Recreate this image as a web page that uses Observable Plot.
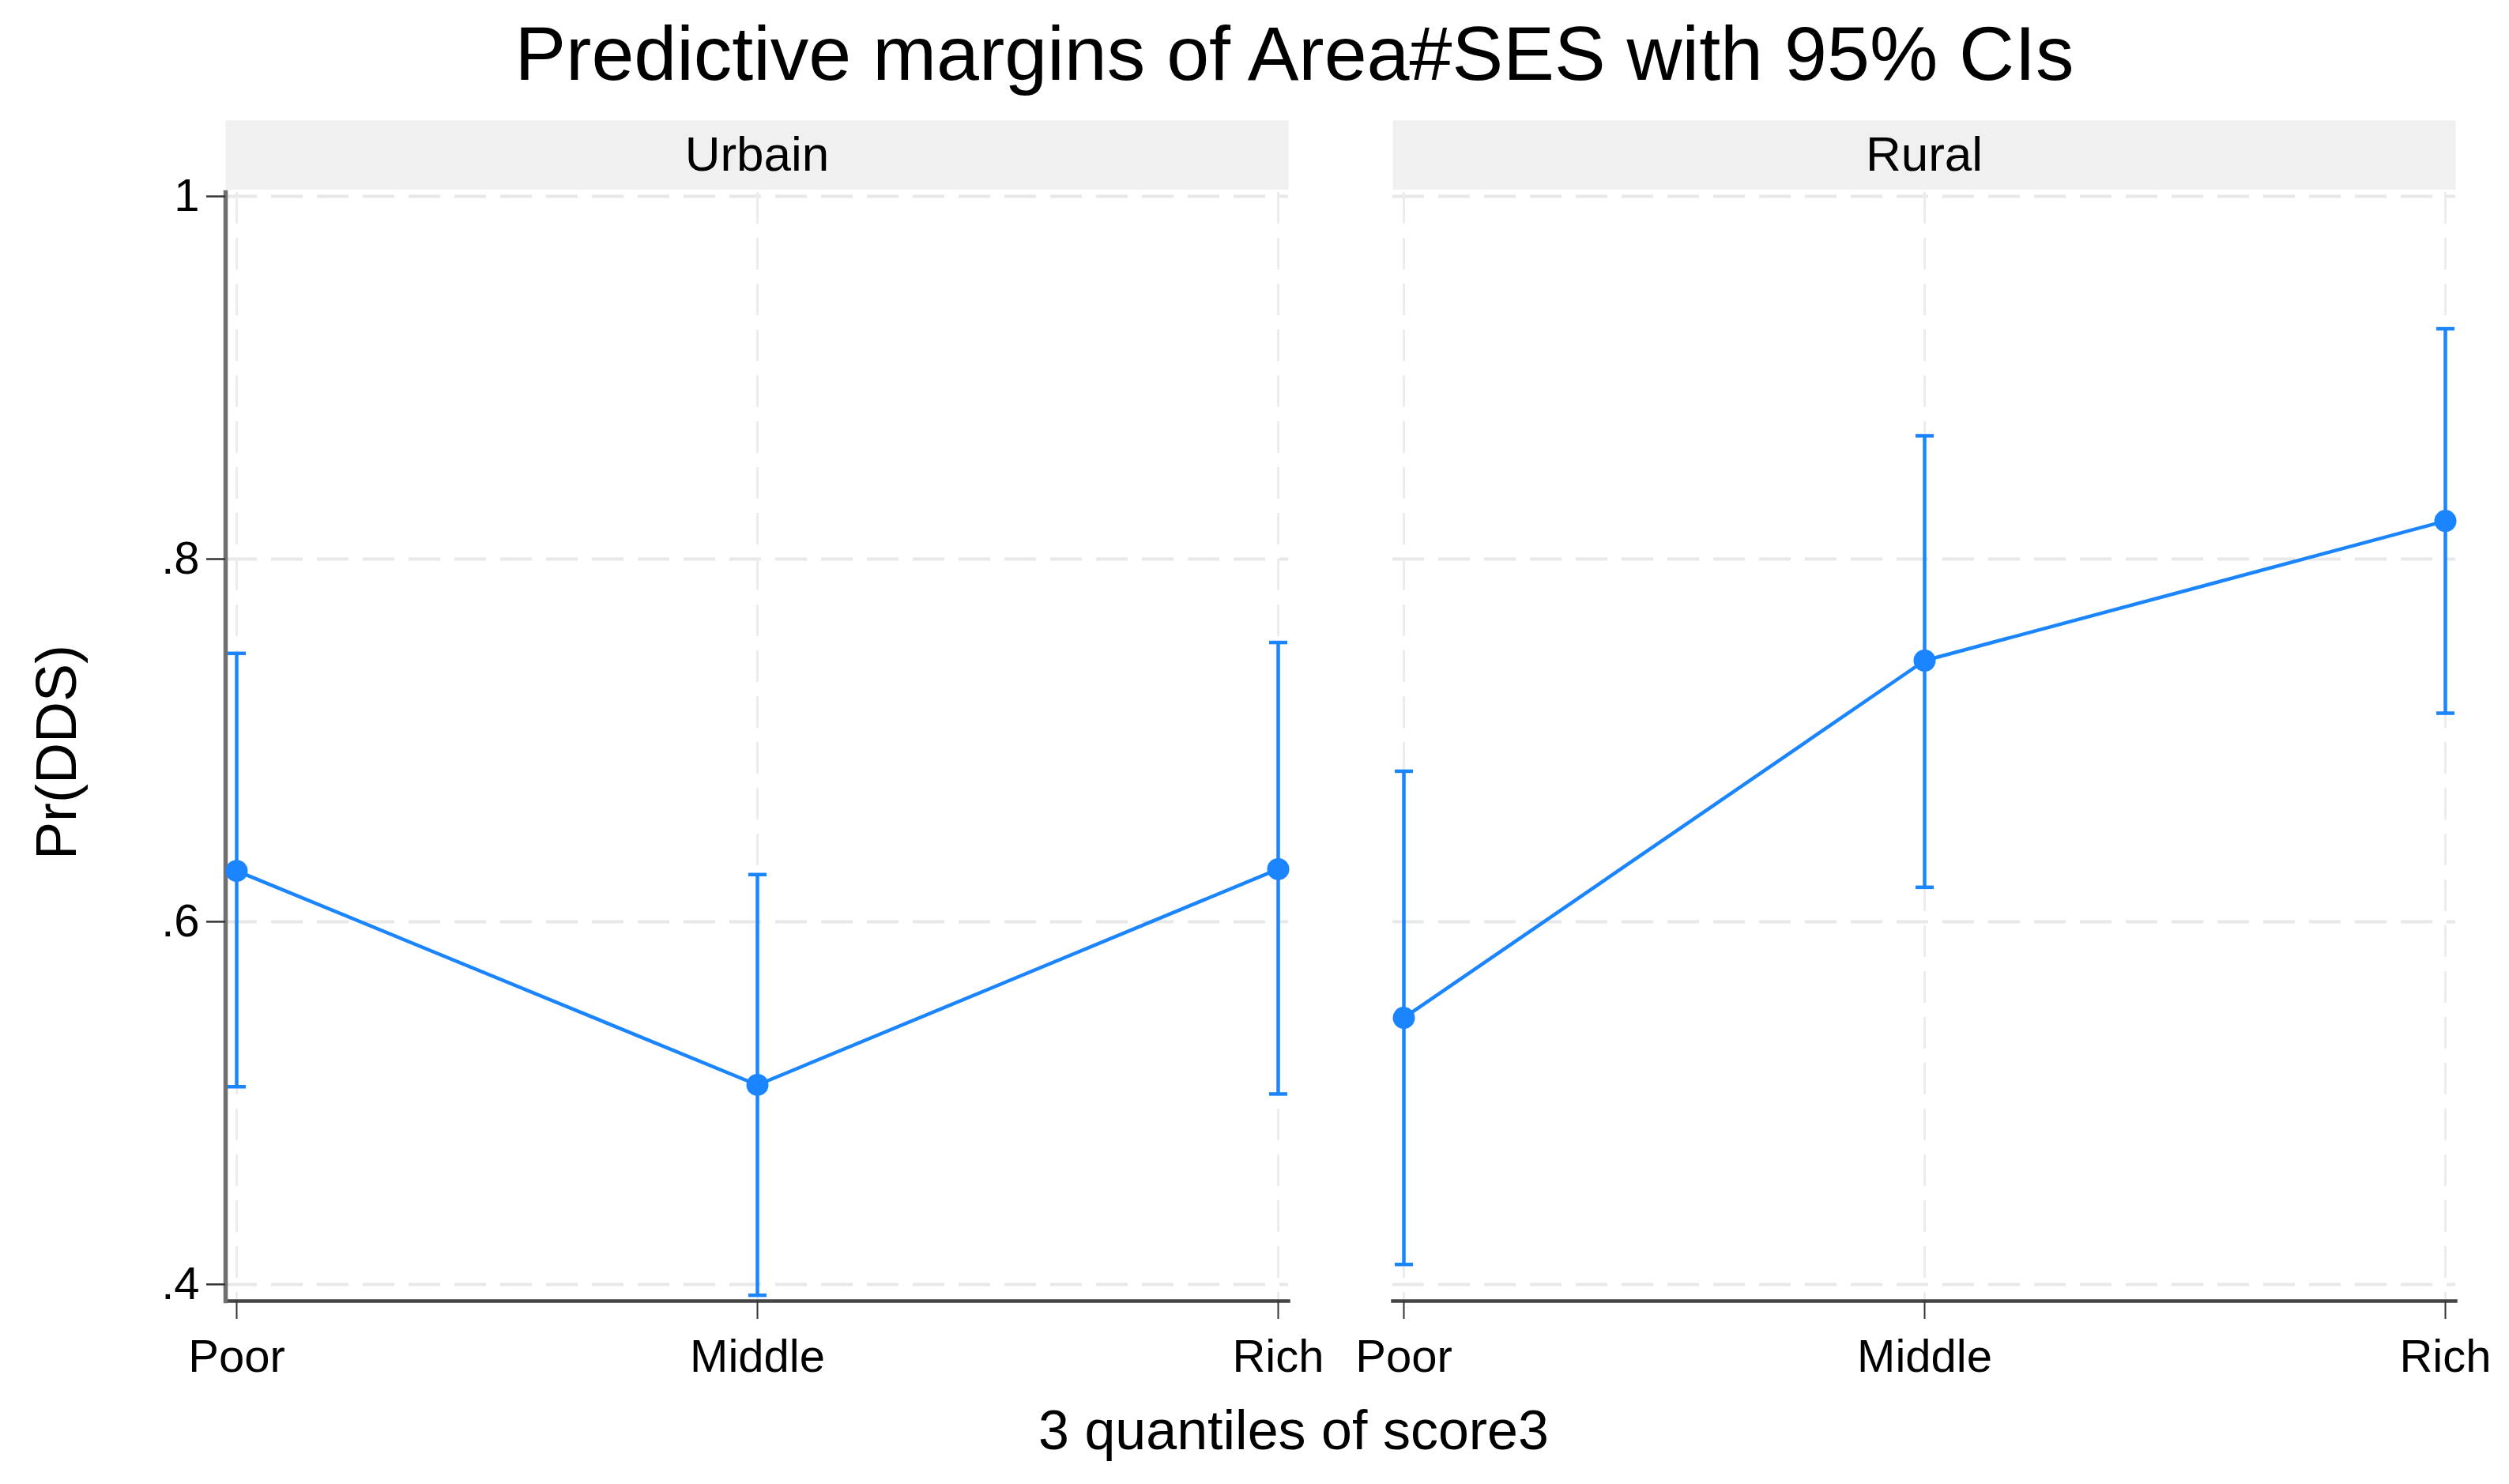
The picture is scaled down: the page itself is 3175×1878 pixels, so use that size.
<!DOCTYPE html>
<html>
<head>
<meta charset="utf-8">
<script src="https://cdn.jsdelivr.net/npm/d3@7"></script>
<script src="https://cdn.jsdelivr.net/npm/@observablehq/plot@0.6"></script>
<style>
  body { margin: 0; background: #fff; font-family: "Liberation Sans", Arial, sans-serif; }
  #wrap { position: relative; width: 3175px; height: 1878px; overflow: hidden; background: #fff; }
  .abs { position: absolute; white-space: nowrap; color: #000; line-height: 1; }
  #strip, #main { position: absolute; left: 0; }
  #strip { top: 152px; }
  #main { top: 240px; }
</style>
</head>
<body>
<div id="wrap">
  <div class="abs" id="title" style="left:0; width:3276px; top:19px; font-size:97px; text-align:center;">Predictive margins of Area#SES with 95% CIs</div>
  <div id="strip"></div>
  <div id="main"></div>
  <div class="abs" id="xtitle" style="left:0; width:3274px; top:1775px; font-size:70px; text-align:center;">3 quantiles of score3</div>
  <div class="abs" id="ytitle" style="left:-229px; top:916px; width:600px; height:72px; font-size:72px; text-align:center; transform:rotate(-90deg);">Pr(DDS)</div>
</div>
<script>
// ---- data ----
const areas = ["Urbain", "Rural"];
const sesLevels = ["Poor", "Middle", "Rich"];
const urbainMargin = [0.628, 0.510, 0.629];
const urbainLower  = [0.509, 0.394, 0.505];
const urbainUpper  = [0.748, 0.626, 0.754];
const ruralMargin  = [0.547, 0.744, 0.821];
const ruralLower   = [0.411, 0.619, 0.715];
const ruralUpper   = [0.683, 0.868, 0.927];
const yTicks = [0.4, 0.6, 0.8, 1];

const rows = [];
sesLevels.forEach((s, i) => rows.push({area: areas[0], ses: s, m: urbainMargin[i], lo: urbainLower[i], hi: urbainUpper[i]}));
sesLevels.forEach((s, i) => rows.push({area: areas[1], ses: s, m: ruralMargin[i], lo: ruralLower[i], hi: ruralUpper[i]}));

const blue = "#1a85ff";
const W = 3175, ML = 284, MR = 67;
const fxOpts = {domain: areas, paddingInner: 0.0893, paddingOuter: 0, axis: null};
const fmt = d => d === 1 ? "1" : String(d).replace(/^0\./, ".");
const capSymbol = {
  draw(context, size) {
    const w = Math.sqrt(size / Math.PI);
    context.moveTo(-w, 0);
    context.lineTo(w, 0);
  }
};

// ---- strip (facet labels) ----
const strip = Plot.plot({
  width: W, height: 88,
  marginLeft: ML, marginRight: MR, marginTop: 0, marginBottom: 0,
  style: {fontFamily: "'Liberation Sans', Arial, sans-serif", background: "transparent"},
  fx: fxOpts,
  marks: [
    Plot.frame({fill: "#f0f0f0", stroke: "none"}),
    Plot.text(areas, {fx: d => d, text: d => d, frameAnchor: "middle", fontSize: 62, fill: "#000"})
  ]
});
document.getElementById("strip").appendChild(strip);

// ---- main chart ----
const main = Plot.plot({
  width: W, height: 1638,
  marginLeft: ML, marginRight: MR, marginTop: 3, marginBottom: 232,
  style: {fontFamily: "'Liberation Sans', Arial, sans-serif", background: "transparent", overflow: "visible"},
  fx: fxOpts,
  x: {type: "point", domain: sesLevels, padding: 0, insetLeft: 13, insetRight: 13, label: null},
  y: {domain: [0.3908, 1.0022], label: null},
  marks: [
    Plot.gridY(yTicks, {stroke: "#e8e8e8", strokeOpacity: 1, strokeWidth: 4, strokeDasharray: "40,18"}),
    Plot.gridX(sesLevels, {stroke: "#ececec", strokeOpacity: 1, strokeWidth: 3, strokeDasharray: "40,18"}),
    Plot.frame({anchor: "bottom", stroke: "#444", strokeWidth: 4.5}),
    Plot.frame({anchor: "left", stroke: "#707070", strokeWidth: 5.5, fx: () => areas[0]}),
    Plot.axisX({tickSize: 23, tickPadding: 25, fontSize: 58, stroke: "#333", strokeWidth: 2, fill: "#000", label: null}),
    Plot.axisY(yTicks, {tickSize: 24, tickPadding: 9, fontSize: 58, stroke: "#333", strokeWidth: 2.5, fill: "#000", tickFormat: fmt, label: null}),
    Plot.ruleX(rows, {fx: "area", x: "ses", y1: "lo", y2: "hi", stroke: blue, strokeWidth: 4.5}),
    Plot.dot(rows, {fx: "area", x: "ses", y: "lo", symbol: capSymbol, r: 11.5, stroke: blue, strokeWidth: 4.5, fill: "none"}),
    Plot.dot(rows, {fx: "area", x: "ses", y: "hi", symbol: capSymbol, r: 11.5, stroke: blue, strokeWidth: 4.5, fill: "none"}),
    Plot.line(rows, {fx: "area", x: "ses", y: "m", stroke: blue, strokeWidth: 4.5}),
    Plot.dot(rows, {fx: "area", x: "ses", y: "m", r: 14, fill: blue, stroke: "none"})
  ]
});
document.getElementById("main").appendChild(main);
</script>
</body>
</html>
